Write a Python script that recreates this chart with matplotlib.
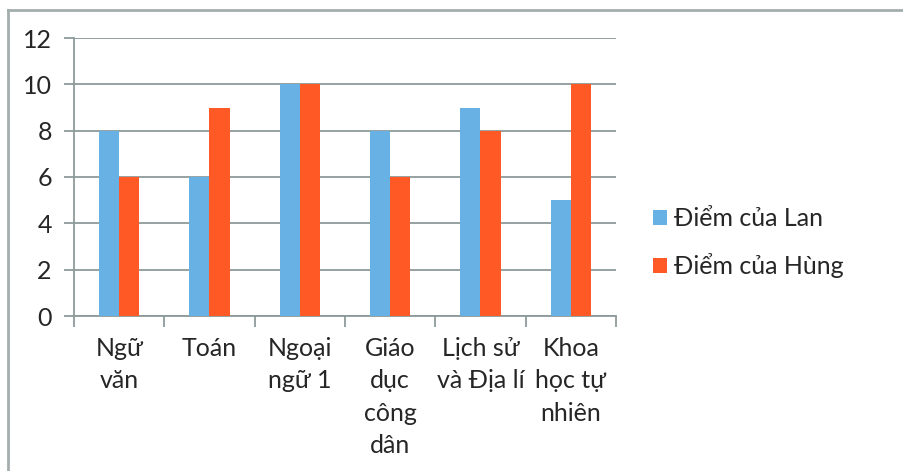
import matplotlib
matplotlib.use("Agg")
import matplotlib.pyplot as plt
import numpy as np
from matplotlib.lines import Line2D

plt.rcParams['font.family'] = ['Lato', 'Open Sans', 'DejaVu Sans']

categories = ["Ngữ\nvăn", "Toán", "Ngoại\nngữ 1", "Giáo\ndục\ncông\ndân", "Lịch sử\nvà Địa lí", "Khoa\nhọc tự\nnhiên"]
lan = [8, 6, 10, 8, 9, 5]
hung = [6, 9, 10, 6, 8, 10]
series_names = ["Điểm của Lan", "Điểm của Hùng"]
yticks = [0, 2, 4, 6, 8, 10, 12]

blue = "#67b1e4"
orange = "#ff5a26"
gridc = "#8e9a9a"
textc = "#262626"

fig = plt.figure(figsize=(9.04, 4.71), dpi=100)
# outer border (left and top only visible)
bx, by = 7.5/904, 1 - 9.5/471
fig.add_artist(Line2D([bx, bx], [0, by], transform=fig.transFigure, color="#a3adad", lw=2))
fig.add_artist(Line2D([bx, 1], [by, by], transform=fig.transFigure, color="#a3adad", lw=2))

ax = fig.add_axes([74/904, 1 - 316/471, 542/904, 278/471])
x = np.arange(len(categories))
w = 0.222
ax.bar(x - w/2, lan, w, color=blue, label=series_names[0], zorder=3)
ax.bar(x + w/2, hung, w, color=orange, label=series_names[1], zorder=3)

ax.set_xlim(-0.5, len(categories) - 0.5)
ax.set_ylim(0, 12)
ax.set_yticks(yticks)
ax.set_yticklabels([str(v) for v in yticks], fontsize=18, color=textc)
ax.yaxis.grid(True, color=gridc, linewidth=1.3, zorder=0)
for s in ["top", "right"]:
    ax.spines[s].set_visible(False)
ax.spines["left"].set_color(gridc)
ax.spines["bottom"].set_color(gridc)
ax.spines["left"].set_linewidth(1.3)
ax.spines["bottom"].set_linewidth(1.3)
ax.tick_params(axis="y", length=7, width=1.3, color=gridc, pad=9)

# x ticks at category boundaries
ax.set_xticks(np.arange(len(categories) + 1) - 0.5)
ax.set_xticklabels([])
ax.tick_params(axis="x", length=8, width=1.3, color=gridc)
for i, c in enumerate(categories):
    ax.text(i, -0.9, c, ha="center", va="top", fontsize=18, color=textc,
            linespacing=1.5, transform=ax.transData)

leg = fig.legend(loc="upper left", bbox_to_anchor=(643/904, 1 - 197/471), frameon=False,
                 fontsize=18, handlelength=0.55, handleheight=0.55, handletextpad=0.3,
                 labelspacing=0.92, borderaxespad=0)
for t in leg.get_texts():
    t.set_color(textc)

fig.savefig("out.png", dpi=100)
